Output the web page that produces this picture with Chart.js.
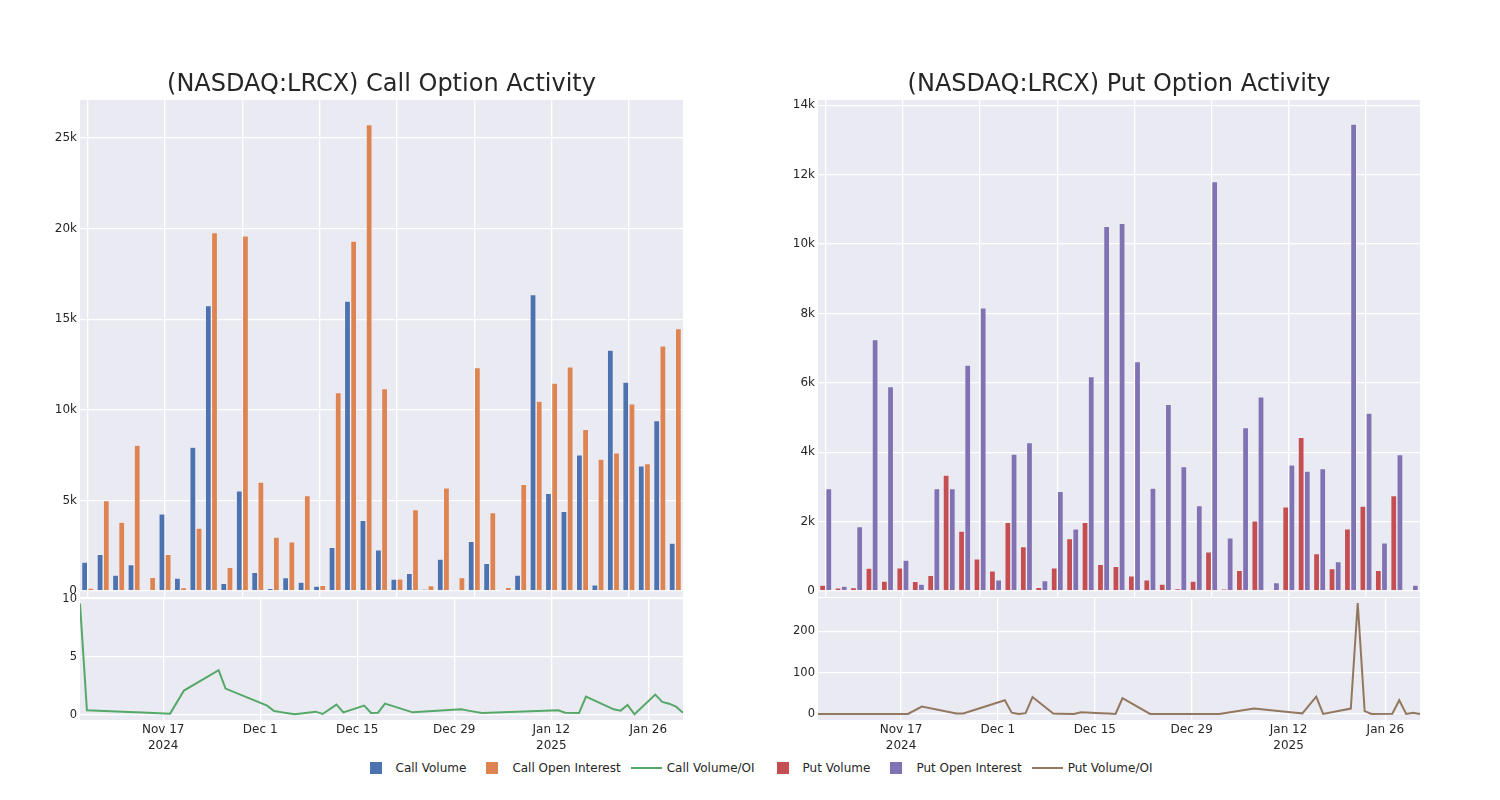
<!DOCTYPE html>
<html>
<head>
<meta charset="utf-8">
<title>(NASDAQ:LRCX) Option Activity</title>
<script src="https://cdn.jsdelivr.net/npm/chart.js@4.4.1/dist/chart.umd.min.js"></script>
<style>
	body { margin: 0; background: #fff; font-family: 'DejaVu Sans', sans-serif; }
	#wrapper { position: relative; width: 1500px; height: 800px; overflow: hidden; }
	.box { position: absolute; }
	#legend { position: absolute; left: 6px; top: 759px; width: 1500px; height: 18px; display: flex; justify-content: center; align-items: center; font-size: 12px; color: #262626; }
	.item { display: flex; align-items: center; margin: 0 5px; }
	.handle { width: 32px; height: 14px; display: flex; align-items: center; justify-content: center; margin-right: 4px; }
	.sq { width: 12px; height: 12px; }
	.ln { width: 31px; height: 2px; }
	.gap { width: 2px; }
</style>
</head>
<body>
<div id="wrapper">
	<div class="box" style="left:0;top:64px;width:700px;height:533px"><canvas id="callBars"></canvas></div>
	<div class="box" style="left:0;top:585px;width:700px;height:173px"><canvas id="callLine"></canvas></div>
	<div class="box" style="left:740px;top:64px;width:697px;height:533px"><canvas id="putBars"></canvas></div>
	<div class="box" style="left:740px;top:585px;width:697px;height:173px"><canvas id="putLine"></canvas></div>
	<div id="legend"></div>
</div>
<script>
// trading days shown in both panels
const dates = [
	'2024-11-05', '2024-11-06', '2024-11-12', '2024-11-14', '2024-11-18', '2024-11-20', '2024-11-25', '2024-11-26',
	'2024-12-02', '2024-12-03', '2024-12-04', '2024-12-05', '2024-12-06', '2024-12-09', '2024-12-10', '2024-12-12',
	'2024-12-13', '2024-12-16', '2024-12-17', '2024-12-18', '2024-12-19', '2024-12-23', '2024-12-30', '2024-12-31',
	'2025-01-02', '2025-01-07', '2025-01-13', '2025-01-14', '2025-01-16', '2025-01-17', '2025-01-21', '2025-01-22',
	'2025-01-23', '2025-01-24', '2025-01-27', '2025-01-28', '2025-01-29', '2025-01-30', '2025-01-31'
];

const callVolume = [
	1600, 2030, 880, 1460, 60, 4260, 720, 7940, 15750, 420, 5530, 1030, 150, 740, 500, 280, 2410, 16010, 3900, 2270,
	660, 980, 110, 1770, 90, 2750, 1530, 20, 880, 16360, 5400, 4400, 7520, 350, 13300, 11530, 6910, 9410, 2650
];
const callOpenInterest = [
	170, 4990, 3800, 8050, 760, 2030, 190, 3480, 19780, 1310, 19600, 6020, 2980, 2710, 5270, 310, 10960, 19320, 25750, 11180,
	680, 4490, 300, 5690, 740, 12340, 4330, 200, 5890, 10480, 11480, 12380, 8920, 7290, 7630, 10330, 7040, 13540, 14480
];
const callRatio = [
	9.6, 0.38, 0.24, 0.19, 0.09, 2.08, 3.84, 2.25, 0.78, 0.32, 0.22, 0.12, 0.03, 0.26, 0.06, 0.87, 0.2, 0.78, 0.14, 0.17,
	0.95, 0.2, 0.46, 0.35, 0.14, 0.25, 0.38, 0.17, 0.14, 1.56, 0.46, 0.35, 0.84, 0.03, 1.73, 1.1, 0.95, 0.69, 0.17
];

const putVolume = [
	170, 90, 100, 660, 290, 670, 280, 450, 3340, 1730, 930, 580, 1980, 1280, 110, 670, 1510, 1980, 770, 710,
	440, 320, 200, 70, 290, 1130, 60, 600, 2020, 15, 2430, 4430, 1080, 650, 1790, 2450, 600, 2750, 30
];
const putOpenInterest = [
	2950, 140, 1860, 7250, 5890, 890, 200, 2950, 2950, 6510, 8160, 320, 3950, 4280, 300, 2870, 1790, 6180, 10510, 10600,
	6610, 2970, 5380, 3590, 2460, 11800, 1530, 4710, 5600, 240, 3640, 3460, 3530, 850, 13460, 5130, 1390, 3930, 170
];
const putRatio = [
	0, 0, 0, 0, 0, 18, 1, 1, 33, 3, 0, 2, 41, 1, 0.5, 0, 4, 2, 1, 0,
	38, 0, 0, 0, 0, 13, 3, 1.5, 42, 0, 13, 268, 7, 0, 0.5, 33, 0, 3, 0
];

const dateTickDates = ['2024-11-17', '2024-12-01', '2024-12-15', '2024-12-29', '2025-01-12', '2025-01-26'];
const dateTickLabels = [['Nov 17', '2024'], 'Dec 1', 'Dec 15', 'Dec 29', ['Jan 12', '2025'], 'Jan 26'];
const callTicks = [0, 5000, 10000, 15000, 20000, 25000];
const putTicks = [0, 2000, 4000, 6000, 8000, 10000, 12000, 14000];
const callRatioTicks = [0, 5, 10];
const putRatioTicks = [0, 100, 200];

const textColor = '#262626';
const fontName = "'DejaVu Sans', sans-serif";

const plotBg = {
	id: 'plotBg',
	beforeDraw: function(chart) {
		const ctx = chart.ctx;
		const a = chart.chartArea;
		ctx.save();
		ctx.fillStyle = '#EAEAF2';
		ctx.fillRect(a.left, a.top, a.right - a.left, a.bottom - a.top);
		ctx.restore();
	}
};

function dayNum(s) {
	const p = s.split('-').map(Number);
	return (Date.UTC(p[0], p[1] - 1, p[2]) - Date.UTC(2024, 10, 17)) / 864e5;
}

function fixTicks(values) {
	return function(scale) {
		scale.ticks = values.map(v => ({ value: v }));
	};
}

// y axis with a fixed width and no extra room for the end labels
function fixWidth(w) {
	return function(s) {
		s.width = w;
		s.paddingTop = 0;
		s.paddingBottom = 0;
	};
}

function kFormat(v) {
	return v === 0 ? '0' : (v / 1000) + 'k';
}

function drawBars(id, title, volume, oi, colors, yMin, yMax, yTicks, axisWidth) {
	new Chart(document.getElementById(id), {
		type: 'bar',
		data: {
			labels: dates,
			datasets: [
				{ data: volume, backgroundColor: colors[0], borderColor: 'rgba(255,255,255,0.3)', borderWidth: 0.7 },
				{ data: oi, backgroundColor: colors[1], borderColor: 'rgba(255,255,255,0.3)', borderWidth: 0.7 }
			]
		},
		options: {
			responsive: true,
			maintainAspectRatio: false,
			animation: false,
			categoryPercentage: 0.8,
			barPercentage: 1.0,
			layout: { padding: { left: 0, right: 17, top: 0, bottom: 0 } },
			plugins: {
				legend: { display: false },
				tooltip: { enabled: false },
				title: {
					display: true,
					text: title,
					fullSize: false,
					color: textColor,
					font: { family: fontName, size: 24, weight: 'normal' },
					padding: { top: 6, bottom: 1.2 }
				}
			},
			scales: {
				x: {
					offset: true,
					ticks: { display: false },
					border: { display: false },
					grid: {
						offset: false,
						drawTicks: false,
						lineWidth: 1.3,
						color: c => c.index % 5 === 0 ? '#ffffff' : 'rgba(0,0,0,0)'
					},
					afterFit: s => { s.height = 0; }
				},
				y: {
					min: yMin,
					max: yMax,
					afterBuildTicks: fixTicks(yTicks),
					afterFit: fixWidth(axisWidth),
					border: { display: false },
					grid: { color: '#ffffff', lineWidth: 1.3, drawTicks: false },
					ticks: { color: textColor, padding: 3, font: { family: fontName, size: 12 }, callback: kFormat }
				}
			}
		},
		plugins: [plotBg]
	});
}

function drawRatio(id, ratio, color, yMin, yMax, yTicks, axisWidth) {
	const points = dates.map((d, i) => ({ x: dayNum(d), y: ratio[i] }));
	const tickDays = dateTickDates.map(dayNum);

	new Chart(document.getElementById(id), {
		type: 'line',
		data: {
			datasets: [{ data: points, borderColor: color, borderWidth: 2, pointRadius: 0, tension: 0, fill: false }]
		},
		options: {
			responsive: true,
			maintainAspectRatio: false,
			animation: false,
			layout: { padding: { left: 0, right: 17, top: 13, bottom: 0 } },
			plugins: { legend: { display: false }, tooltip: { enabled: false } },
			scales: {
				x: {
					type: 'linear',
					min: dayNum(dates[0]),
					max: dayNum(dates[dates.length - 1]),
					afterBuildTicks: fixTicks(tickDays),
					afterFit: s => { s.height = 38; },
					border: { display: false },
					grid: { color: '#ffffff', lineWidth: 1.3, drawTicks: false },
					ticks: {
						color: textColor,
						padding: 2,
						maxRotation: 0,
						font: { family: fontName, size: 12, lineHeight: 1.35 },
						callback: v => dateTickLabels[tickDays.indexOf(v)]
					}
				},
				y: {
					min: yMin,
					max: yMax,
					afterBuildTicks: fixTicks(yTicks),
					afterFit: fixWidth(axisWidth),
					border: { display: false },
					grid: { color: '#ffffff', lineWidth: 1.3, drawTicks: false },
					ticks: { color: textColor, padding: 3, font: { family: fontName, size: 11.5 } }
				}
			}
		},
		plugins: [plotBg]
	});
}

function drawLegend() {
	const items = [
		['sq', '#4C72B0', 'Call Volume'],
		['sq', '#DD8452', 'Call Open Interest'],
		['ln', '#55A868', 'Call Volume/OI'],
		['gap'],
		['sq', '#C44E52', 'Put Volume'],
		['sq', '#8172B3', 'Put Open Interest'],
		['ln', '#937860', 'Put Volume/OI']
	];
	const box = document.getElementById('legend');
	for (let it of items) {
		if (it[0] === 'gap') {
			box.insertAdjacentHTML('beforeend', '<div class="gap"></div>');
			continue;
		}
		box.insertAdjacentHTML('beforeend',
			`<div class="item"><div class="handle"><div class="${it[0]}" style="background:${it[1]}"></div></div><span>${it[2]}</span></div>`);
	}
}

drawBars('callBars', '(NASDAQ:LRCX) Call Option Activity', callVolume, callOpenInterest, ['#4C72B0', '#DD8452'], -330, 27100, callTicks, 80);
drawBars('putBars', '(NASDAQ:LRCX) Put Option Activity', putVolume, putOpenInterest, ['#C44E52', '#8172B3'], -173, 14150, putTicks, 78);
drawRatio('callLine', callRatio, '#55A868', -0.46, 10.07, callRatioTicks, 80);
drawRatio('putLine', putRatio, '#937860', -14.6, 280.5, putRatioTicks, 78);
drawLegend();
</script>
</body>
</html>
